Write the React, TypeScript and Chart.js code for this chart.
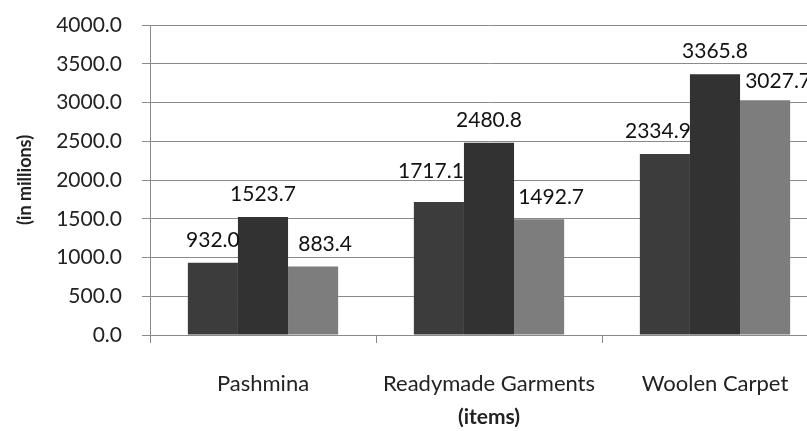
import React, { useEffect, useRef } from "react";
import { Chart, registerables } from "chart.js";

Chart.register(...registerables);

const categories = ["Pashmina", "Readymade Garments", "Woolen Carpet"];
const seriesA = [932.0, 1717.1, 2334.9];
const seriesB = [1523.7, 2480.8, 3365.8];
const seriesC = [883.4, 1492.7, 3027.7];
const yTicks = [0, 500, 1000, 1500, 2000, 2500, 3000, 3500, 4000];

const FONT = "Lato, 'Open Sans', sans-serif";

// Small per-label nudges (px) so neighbouring value labels don't collide.
const LABEL_DX = [
  [0, -8, -7],
  [0, 0, 0],
  [12, 12, 13],
];
const LABEL_DY = [
  [0, -8, 0],
  [0, 0, 0],
  [0, 0, 3],
];

// Writes each bar's value just above it.
const valueLabels = {
  id: "valueLabels",
  afterDatasetsDraw(chart: any) {
    const ctx = chart.ctx;
    ctx.save();
    ctx.font = `21px ${FONT}`;
    ctx.fillStyle = "#111";
    ctx.textAlign = "center";
    ctx.textBaseline = "bottom";
    chart.data.datasets.forEach((ds: any, i: number) => {
      const meta = chart.getDatasetMeta(i);
      meta.data.forEach((bar: any, j: number) => {
        ctx.fillText(
          Number(ds.data[j]).toFixed(1),
          bar.x + LABEL_DX[i][j],
          bar.y - 12 + LABEL_DY[i][j]
        );
      });
    });
    ctx.restore();
  },
};

export default function App() {
  const ref = useRef<HTMLCanvasElement | null>(null);

  useEffect(() => {
    if (!ref.current) return;
    const chart = new Chart(ref.current, {
      type: "bar",
      data: {
        labels: categories,
        datasets: [
          { data: seriesA, backgroundColor: "#3c3c3c" },
          { data: seriesB, backgroundColor: "#323232" },
          { data: seriesC, backgroundColor: "#7d7d7d" },
        ],
      },
      options: {
        responsive: false,
        animation: false,
        devicePixelRatio: 1,
        categoryPercentage: 0.665,
        barPercentage: 1.0,
        layout: {
          padding: { top: 25, right: 1, left: 0, bottom: 0 },
        },
        plugins: {
          legend: { display: false },
          tooltip: { enabled: false },
        },
        scales: {
          x: {
            offset: true,
            grid: {
              display: true,
              offset: true,
              drawOnChartArea: false,
              drawTicks: true,
              tickLength: 8,
              color: "#8a8a8a",
            },
            border: { color: "#8a8a8a" },
            ticks: {
              color: "#222",
              font: { family: FONT, size: 22 },
              padding: 28,
            },
            title: {
              display: true,
              text: "(items)",
              color: "#222",
              font: { family: FONT, size: 21, weight: "bold" },
              padding: { top: 4, bottom: 1 },
            },
            afterFit(scale: any) {
              scale.height = 96;
              scale.paddingLeft = 0;
              scale.paddingRight = 0;
            },
          },
          y: {
            min: 0,
            max: 4000,
            afterBuildTicks(scale: any) {
              scale.ticks = yTicks.map((v) => ({ value: v }));
            },
            grid: {
              color: "#8a8a8a",
              drawTicks: true,
              tickLength: 8,
            },
            border: { color: "#8a8a8a" },
            ticks: {
              color: "#222",
              font: { family: FONT, size: 21 },
              padding: 20,
              callback: (v: any) => Number(v).toFixed(1),
            },
            title: {
              display: true,
              text: "(in millions)",
              color: "#222",
              font: { family: FONT, size: 18, weight: "bold" },
              padding: { top: 14, bottom: 4 },
            },
            afterFit(scale: any) {
              scale.width = 150;
              scale.paddingTop = 0;
              scale.paddingBottom = 0;
            },
          },
        },
      },
      plugins: [valueLabels],
    });
    return () => chart.destroy();
  }, []);

  return (
    <div
      style={{
        position: "absolute",
        left: 0,
        top: 0,
        width: 807,
        height: 431,
        overflow: "hidden",
        background: "#fff",
      }}
    >
      <canvas ref={ref} width={829} height={431} style={{ display: "block" }} />
    </div>
  );
}
